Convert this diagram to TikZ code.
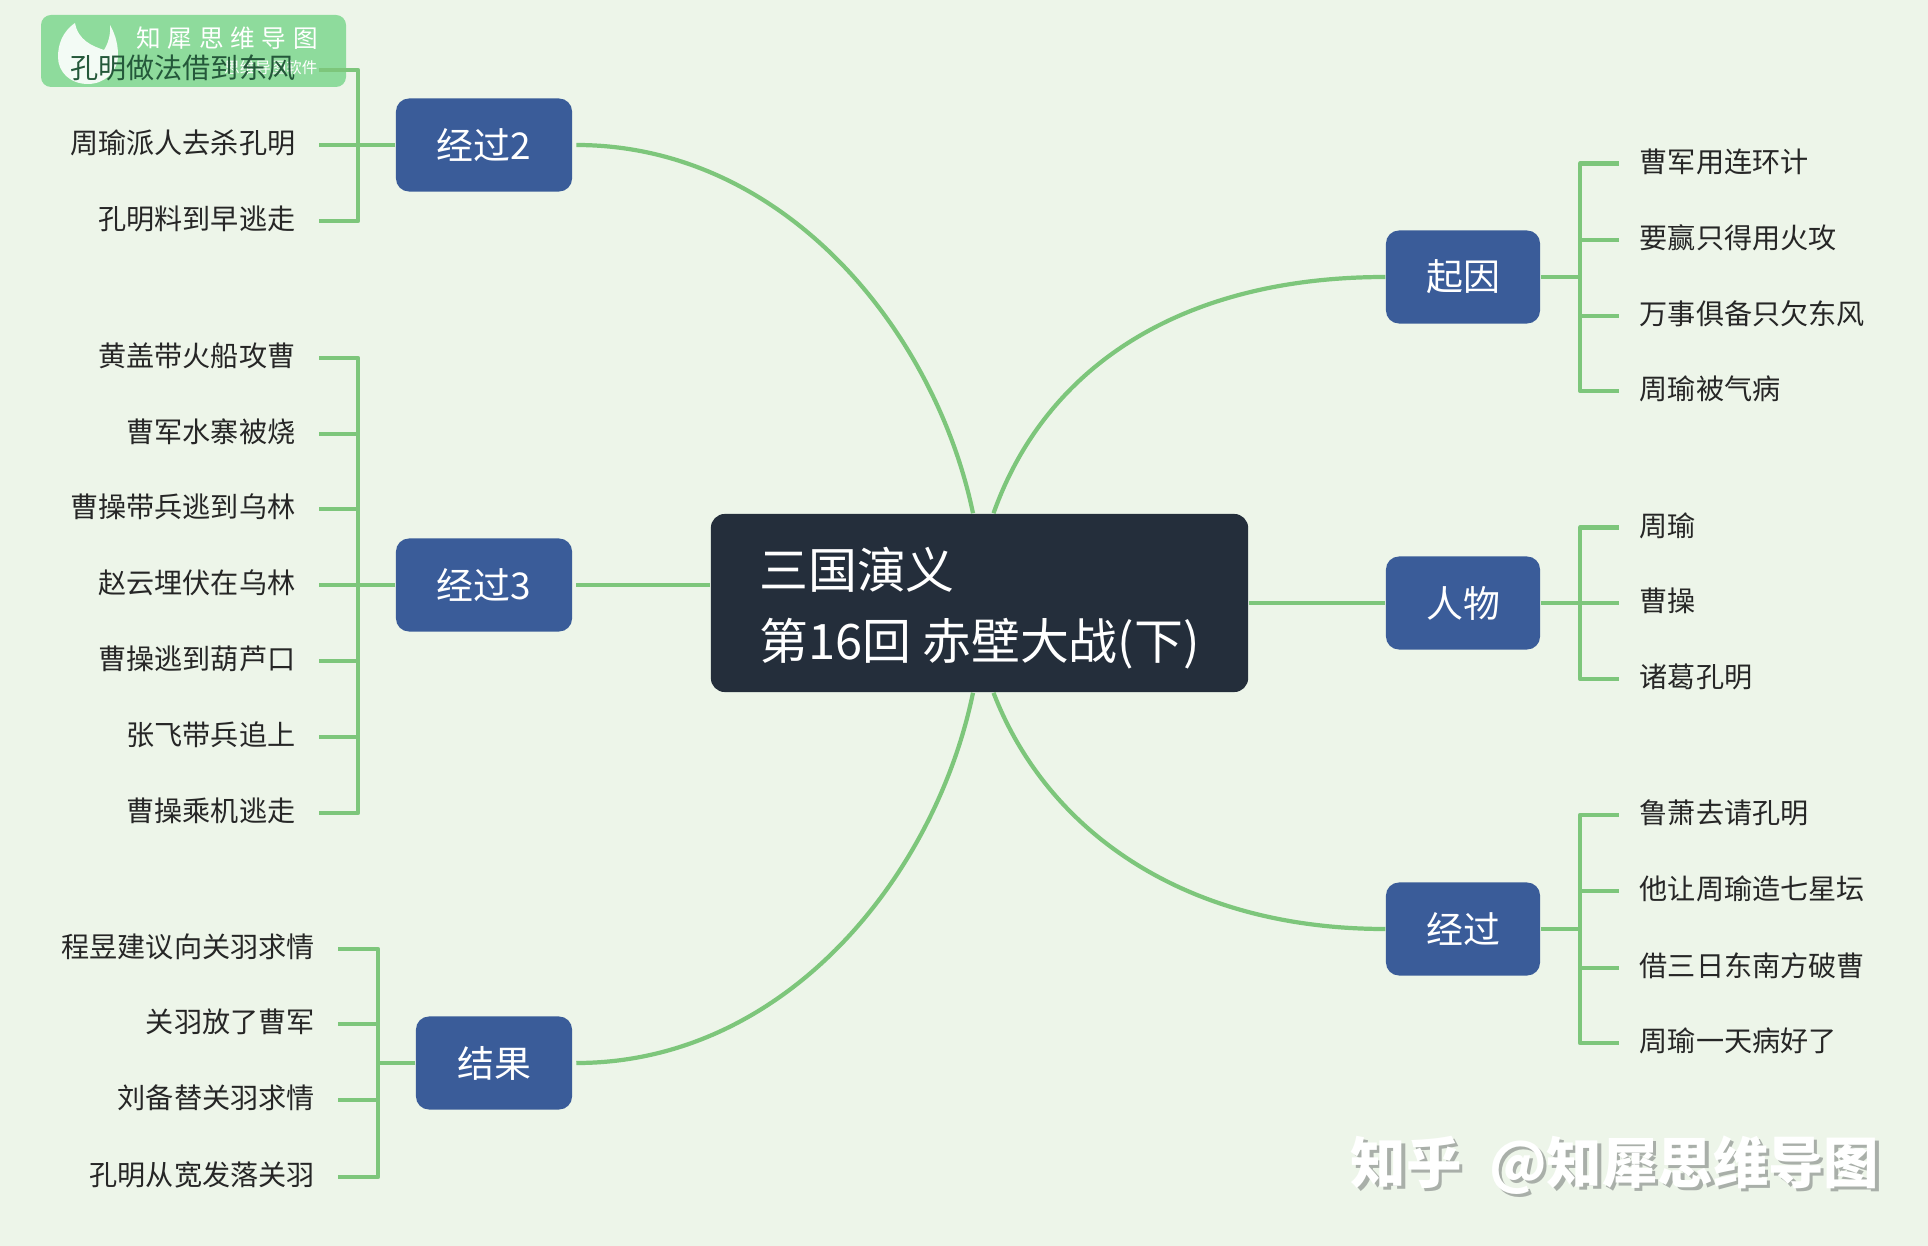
\documentclass[tikz,border=0pt]{standalone}
\usepackage{fontspec}
\setmainfont{Noto Sans CJK SC}
\newfontfamily\logofont[LetterSpace=27]{Noto Sans CJK SC}
\definecolor{bgcol}{HTML}{EDF5E9}
\definecolor{linkcol}{HTML}{7DC67B}
\definecolor{boxcol}{HTML}{3A5C99}
\definecolor{maincol}{HTML}{242E3B}
\definecolor{logocol}{HTML}{8EDB9C}
\definecolor{shadowcol}{HTML}{A9AFA9}
\definecolor{logotext}{HTML}{24583A}
\tikzset{
  link/.style={linkcol,line width=1.2pt},
  linkleft/.style={link,shorten <=.035cm},
  branch/.style={fill=boxcol,text=white,rounded corners=.13cm,inner sep=0,minimum height=.93cm,font=\fontsize{10.5}{12}\selectfont},
  leaftext/.style={inner ysep=0,text height=.3cm,text depth=.128cm,text=black!85,font=\fontsize{8}{10}\selectfont},
  leafleft/.style={leaftext,anchor=east,inner xsep=.225cm},
  leafright/.style={leaftext,anchor=west,inner xsep=.2cm},
  markfont/.style={anchor=west,inner sep=0,font=\fontsize{15.75}{18}\selectfont\bfseries},
}
\begin{document}
\begin{tikzpicture}[x=.01cm,y=-.01cm,line join=round]
  \fill[bgcol] (0,0) rectangle (1928,1246);
  \useasboundingbox (0,0) rectangle (1928,1246);
  % logo
  \fill[logocol,rounded corners=.1cm] (41,15) rectangle (346,87);
  \fill[white,opacity=.9] (75,23) .. controls (62,32) and (58,45) .. (58,57) .. controls (58,72) and (70,84) .. (88,84)
    .. controls (104,84) and (118,72) .. (118,55) .. controls (118,42) and (114,32) .. (110,25)
    .. controls (111,34) and (108,44) .. (104,50) .. controls (92,46) and (78,40) .. (75,23) -- cycle;
  \node[anchor=west,inner sep=0,text=white,font=\logofont\fontsize{7}{8}\selectfont] (logotitle) at (136,38) {知犀思维导图};
  \node[anchor=east,inner sep=0,text=white,font=\fontsize{4.4}{5}\selectfont] (logosub) at (318,68) {思维导图软件};
  % centre and branches
  \node[fill=maincol,rounded corners=.14cm,inner sep=0,minimum width=5.37cm,minimum height=1.78cm] (main) at (979.5,603) {};
  \node[text=white,inner sep=0,align=left,font=\fontsize{13.9}{20.3}\selectfont] (maintitle) at ([yshift=-.05cm]main.center) {三国演义\\第16回 赤壁大战(下)};
  \node[branch,minimum width=1.76cm] (passb) at (484,145) {经过2};
  \node[branch,minimum width=1.76cm] (passc) at (484,585) {经过3};
  \node[branch,minimum width=1.56cm] (result) at (494,1063) {结果};
  \node[branch,minimum width=1.54cm] (cause) at (1463,277) {起因};
  \node[branch,minimum width=1.54cm] (people) at (1463,603) {人物};
  \node[branch,minimum width=1.54cm] (pass) at (1463,929) {经过};
  \draw[linkleft] (passb.east) .. controls +(212,0) and +(-38,-182) .. ([xshift=-.065cm]main.north);
  \draw[linkleft] (passc.east) -- (main.west |- passc.east);
  \draw[linkleft] (result.east) .. controls +(212,0) and +(-38,184) .. ([xshift=-.065cm]main.south);
  \draw[link] ([xshift=.14cm]main.north) .. controls +(51.5,-145) and +(-206,0) .. (cause.west);
  \draw[link] (main.east |- people.west) -- (people.west);
  \draw[link] ([xshift=.14cm]main.south) .. controls +(51.5,134) and +(-206,0) .. (pass.west);
  % hubs
  \coordinate (hubpassb) at (358,145);
  \coordinate (hubpassc) at (358,585);
  \coordinate (hubresult) at (378,1063);
  \coordinate (hubcause) at (1580,277);
  \coordinate (hubpeople) at (1580,603);
  \coordinate (hubpass) at (1580,929);
  \draw[link] (passb.west) -- (hubpassb);
  \draw[link] (passc.west) -- (hubpassc);
  \draw[link] (result.west) -- (hubresult);
  \draw[link] (cause.east) -- (hubcause);
  \draw[link] (people.east) -- (hubpeople);
  \draw[link] (pass.east) -- (hubpass);
  % leaves
  \node[leafleft,text=logotext] (ba) at (318.5,70) {孔明做法借到东风};
  \draw[link] (hubpassb) |- (ba.east);
  \foreach \n/\y/\t in {bb/145/周瑜派人去杀孔明,bc/221/孔明料到早逃走}{
    \node[leafleft] (\n) at (318.5,\y) {\t};
    \draw[link] (hubpassb) |- (\n.east);
  }
  \foreach \n/\y/\t in {ca/358/黄盖带火船攻曹,cb/434/曹军水寨被烧,cc/509/曹操带兵逃到乌林,cd/585/赵云埋伏在乌林,ce/661/曹操逃到葫芦口,cf/737/张飞带兵追上,cg/813/曹操乘机逃走}{
    \node[leafleft] (\n) at (318.5,\y) {\t};
    \draw[link] (hubpassc) |- (\n.east);
  }
  \foreach \n/\y/\t in {ra/949/程昱建议向关羽求情,rb/1024/关羽放了曹军,rc/1100/刘备替关羽求情,rd/1177/孔明从宽发落关羽}{
    \node[leafleft] (\n) at (338,\y) {\t};
    \draw[link] (hubresult) |- (\n.east);
  }
  \foreach \n/\y/\t in {qa/163.5/曹军用连环计,qb/240/要赢只得用火攻,qc/316/万事俱备只欠东风,qd/391/周瑜被气病}{
    \node[leafright] (\n) at (1619,\y) {\t};
    \draw[link] (hubcause) |- (\n.west);
  }
  \foreach \n/\y/\t in {pa/527.5/周瑜,pb/603/曹操,pc/679/诸葛孔明}{
    \node[leafright] (\n) at (1619,\y) {\t};
    \draw[link] (hubpeople) |- (\n.west);
  }
  \foreach \n/\y/\t in {ga/815/鲁萧去请孔明,gb/891/他让周瑜造七星坛,gc/968/借三日东南方破曹,gd/1043/周瑜一天病好了}{
    \node[leafright] (\n) at (1619,\y) {\t};
    \draw[link] (hubpass) |- (\n.west);
  }
  % watermark
  \node[markfont,text=shadowcol] (markshade) at (1353.5,1168.5) {知乎\hspace{.5em}@知犀思维导图};
  \node[markfont,text=white] (mark) at (1350,1165) {知乎\hspace{.5em}@知犀思维导图};
\end{tikzpicture}
\end{document}
